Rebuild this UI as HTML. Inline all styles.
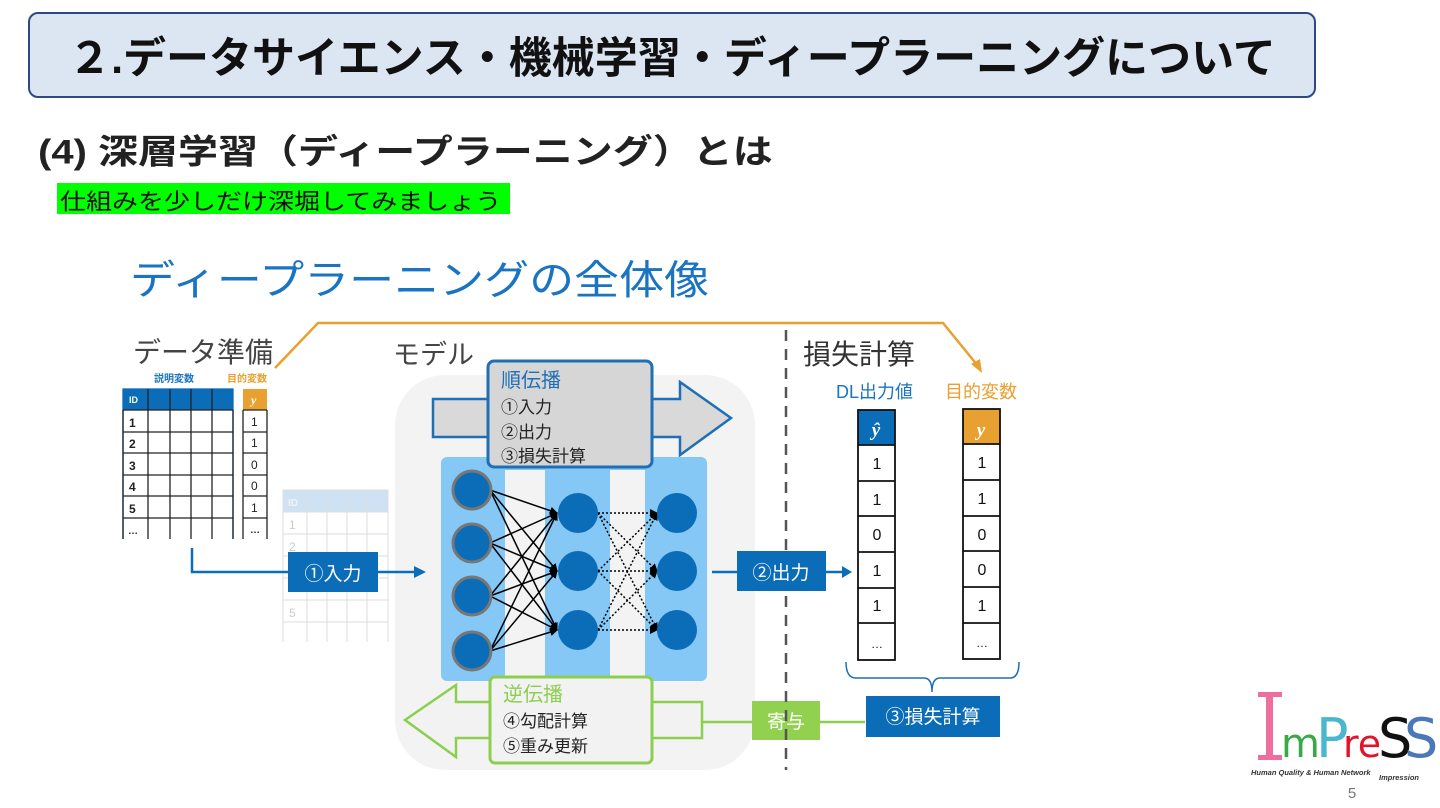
<!DOCTYPE html>
<html><head><meta charset="utf-8"><style>
body{margin:0;width:1440px;height:808px;background:#fff;position:relative;overflow:hidden;font-family:"Liberation Sans","Noto Sans CJK JP",sans-serif}
.a{position:absolute;white-space:nowrap}
</style></head><body>
<div class="a" style="left:28px;top:12px;width:1284px;height:82px;background:#dce6f2;border:2px solid #2e4a86;border-radius:10px"></div>
<div class="a" style="left:28px;top:24px;width:1288px;text-align:center;font-size:43px;font-weight:bold;color:#111">２.データサイエンス・機械学習・ディープラーニングについて</div>
<div class="a" style="left:38px;top:120px;font-size:40px;font-weight:bold;color:#222;transform:scaleY(0.85);transform-origin:0 50%">(4) 深層学習（ディープラーニング）とは</div>
<div class="a" style="left:57px;top:183px;width:453px;height:31px;background:#00ff00"></div>
<div class="a" style="left:60px;top:182px;font-size:26px;color:#111;transform:scaleY(0.88);transform-origin:0 50%">仕組みを少しだけ深堀してみましょう</div>
<div class="a" style="left:130px;top:244px;font-size:45px;color:#1a74c2;transform:scaleY(0.9);transform-origin:0 50%">ディープラーニングの全体像</div>
<div class="a" style="left:133px;top:331px;font-size:28px;color:#444">データ準備</div>
<div class="a" style="left:393px;top:333px;font-size:27px;color:#444">モデル</div>
<div class="a" style="left:803px;top:333px;font-size:28px;color:#333">損失計算</div>
<div class="a" style="left:836px;top:378px;font-size:18px;color:#1a74c2">DL出力値</div>
<div class="a" style="left:945px;top:378px;font-size:18px;color:#e8a030">目的変数</div>

<svg class="a" style="left:0;top:0" width="1440" height="808" font-family="Liberation Sans, Noto Sans CJK JP, sans-serif">
<defs><marker id="ah" markerWidth="8" markerHeight="8" refX="7" refY="4" orient="auto" markerUnits="userSpaceOnUse"><path d="M0,0 L8,4 L0,8z" fill="#000"/></marker></defs>
<rect x="395" y="375" width="360" height="395" rx="50" fill="#f3f3f3"/>
<g stroke="#d8dde2" stroke-width="1" fill="none">
<rect x="283" y="490" width="105" height="22" fill="#cfe2f3"/>
<line x1="283" y1="512" x2="283" y2="642"/><line x1="307" y1="490" x2="307" y2="642"/><line x1="327" y1="490" x2="327" y2="642"/><line x1="347" y1="490" x2="347" y2="642"/><line x1="367" y1="490" x2="367" y2="642"/><line x1="388" y1="490" x2="388" y2="642"/>
<line x1="283" y1="534" x2="388" y2="534"/><line x1="283" y1="556" x2="388" y2="556"/><line x1="283" y1="578" x2="388" y2="578"/><line x1="283" y1="600" x2="388" y2="600"/><line x1="283" y1="622" x2="388" y2="622"/>
</g>
<g fill="#c8ccd0" font-size="12"><text x="288" y="506" fill="#eef4fa" font-weight="bold" font-size="10">ID</text><text x="289" y="529">1</text><text x="289" y="551">2</text><text x="289" y="617">5</text></g>
<rect x="118" y="368" width="158" height="172" fill="#fff"/>
<text x="154" y="382" font-size="10" font-weight="bold" fill="#1a74c2">説明変数</text>
<text x="227" y="382" font-size="10" font-weight="bold" fill="#e8a030">目的変数</text>
<rect x="123" y="389" width="110" height="21" fill="#0b6cb8"/>
<rect x="243" y="389" width="24" height="21" fill="#e8a030"/>
<g stroke="#222" stroke-width="1.3" fill="none">
<rect x="123" y="389" width="110" height="151" stroke="#0b6cb8"/>
<line x1="123" y1="410" x2="123" y2="540"/><line x1="148" y1="389" x2="148" y2="540"/><line x1="170" y1="389" x2="170" y2="540"/><line x1="191" y1="389" x2="191" y2="540"/><line x1="212" y1="389" x2="212" y2="540"/><line x1="233" y1="410" x2="233" y2="540"/>
<line x1="123" y1="432" x2="233" y2="432"/><line x1="123" y1="453" x2="233" y2="453"/><line x1="123" y1="475" x2="233" y2="475"/><line x1="123" y1="496" x2="233" y2="496"/><line x1="123" y1="518" x2="233" y2="518"/><line x1="123" y1="410" x2="233" y2="410"/>
<line x1="243" y1="410" x2="243" y2="540"/><line x1="267" y1="410" x2="267" y2="540"/>
<line x1="243" y1="410" x2="267" y2="410"/><line x1="243" y1="432" x2="267" y2="432"/><line x1="243" y1="453" x2="267" y2="453"/><line x1="243" y1="475" x2="267" y2="475"/><line x1="243" y1="496" x2="267" y2="496"/><line x1="243" y1="518" x2="267" y2="518"/>
</g>
<rect x="116" y="539" width="162" height="4" fill="#fff"/>
<g font-size="12" font-weight="bold" fill="#222">
<text x="129" y="403" fill="#fff" font-size="9">ID</text><text x="251" y="404" fill="#fff" font-family="Liberation Serif" font-style="italic">y</text>
<text x="129" y="427">1</text><text x="129" y="448">2</text><text x="129" y="470">3</text><text x="129" y="491">4</text><text x="129" y="513">5</text><text x="128" y="534" font-size="10">…</text>
<text x="251" y="426" font-weight="normal">1</text><text x="251" y="447" font-weight="normal">1</text><text x="251" y="469" font-weight="normal">0</text><text x="251" y="490" font-weight="normal">0</text><text x="251" y="512" font-weight="normal">1</text><text x="250" y="533" font-size="10">…</text>
</g>
<polyline points="275,368 318,323 943,323 978,366" fill="none" stroke="#e8a030" stroke-width="2.5"/>
<polygon points="982,373 971,364 980,359" fill="#e8a030"/>
<polyline points="192,548 192,572 418,572" fill="none" stroke="#0b6cb8" stroke-width="2.5"/>
<polygon points="426,572 414,566 414,578" fill="#0b6cb8"/>
<rect x="288" y="552" width="90" height="40" fill="#0b6cb8"/>
<text x="333" y="580" text-anchor="middle" font-size="19" fill="#fff">①入力</text>
<polygon points="433,399 680,399 680,382 731,418 680,455 680,437 433,437" fill="#d9d9d9" stroke="#1f6fb6" stroke-width="2.5"/>
<rect x="441" y="457" width="266" height="224" rx="6" fill="#85c8f5"/>
<rect x="505" y="470" width="40" height="211" fill="#f3f3f3"/>
<rect x="610" y="470" width="35" height="211" fill="#f3f3f3"/>
<g stroke="#000" stroke-width="1.5">
<g marker-end="url(#ah)">
<line x1="490" y1="490" x2="557" y2="513"/><line x1="490" y1="490" x2="557" y2="571"/><line x1="490" y1="490" x2="557" y2="630"/>
<line x1="490" y1="543" x2="557" y2="513"/><line x1="490" y1="543" x2="557" y2="571"/><line x1="490" y1="543" x2="557" y2="630"/>
<line x1="490" y1="596" x2="557" y2="513"/><line x1="490" y1="596" x2="557" y2="571"/><line x1="490" y1="596" x2="557" y2="630"/>
<line x1="490" y1="651" x2="557" y2="513"/><line x1="490" y1="651" x2="557" y2="571"/><line x1="490" y1="651" x2="557" y2="630"/>
</g>
<g stroke-dasharray="2,2" marker-end="url(#ah)">
<line x1="598" y1="513" x2="657" y2="513"/><line x1="598" y1="513" x2="657" y2="571"/><line x1="598" y1="513" x2="657" y2="630"/>
<line x1="598" y1="571" x2="657" y2="513"/><line x1="598" y1="571" x2="657" y2="571"/><line x1="598" y1="571" x2="657" y2="630"/>
<line x1="598" y1="630" x2="657" y2="513"/><line x1="598" y1="630" x2="657" y2="571"/><line x1="598" y1="630" x2="657" y2="630"/>
</g></g>
<g fill="#0b6cb8" stroke="#777" stroke-width="3">
<circle cx="472" cy="490" r="19"/><circle cx="472" cy="543" r="19"/><circle cx="472" cy="596" r="19"/><circle cx="472" cy="651" r="19"/></g>
<g fill="#0b6cb8">
<circle cx="578" cy="513" r="20"/><circle cx="578" cy="571" r="20"/><circle cx="578" cy="630" r="20"/>
<circle cx="677" cy="513" r="20"/><circle cx="677" cy="571" r="20"/><circle cx="677" cy="630" r="20"/></g>
<rect x="488" y="361" width="164" height="106" rx="6" fill="#d6d6d6" stroke="#1f6fb6" stroke-width="3"/>
<text x="501" y="387" font-size="20" fill="#1f6fb6">順伝播</text>
<g font-size="17" fill="#222"><text x="501" y="413">①入力</text><text x="501" y="438">②出力</text><text x="501" y="462">③損失計算</text></g>
<polyline points="702,722 865,722" stroke="#8ccf4e" stroke-width="2.5"/>
<polygon points="702,702 456,702 456,685 405,720 456,757 456,738 702,738" fill="#f2f2f2" stroke="#8ccf4e" stroke-width="2.5"/>
<rect x="490" y="677" width="162" height="86" rx="5" fill="#f2f2f2" stroke="#8ccf4e" stroke-width="3"/>
<text x="503" y="701" font-size="20" fill="#8ccf4e">逆伝播</text>
<g font-size="17" fill="#222"><text x="503" y="727">④勾配計算</text><text x="503" y="752">⑤重み更新</text></g>
<rect x="752" y="701" width="68" height="39" fill="#92d050"/>
<text x="786" y="728" text-anchor="middle" font-size="19" fill="#fff">寄与</text>
<line x1="786" y1="330" x2="786" y2="770" stroke="#555" stroke-width="2.5" stroke-dasharray="11,8"/>
<line x1="712" y1="572" x2="846" y2="572" stroke="#0b6cb8" stroke-width="2.5"/>
<polygon points="852,572 842,566 842,578" fill="#0b6cb8"/>
<rect x="737" y="551" width="89" height="40" fill="#0b6cb8"/>
<text x="781" y="579" text-anchor="middle" font-size="19" fill="#fff">②出力</text>
<rect x="858" y="410" width="37" height="35" fill="#0b6cb8"/>
<rect x="963" y="409" width="37" height="35" fill="#e8a030"/>
<g stroke="#111" stroke-width="1.8" fill="none">
<rect x="858" y="410" width="37" height="250"/><rect x="963" y="409" width="37" height="250"/>
<line x1="858" y1="445" x2="895" y2="445"/><line x1="858" y1="481" x2="895" y2="481"/><line x1="858" y1="516" x2="895" y2="516"/><line x1="858" y1="552" x2="895" y2="552"/><line x1="858" y1="588" x2="895" y2="588"/><line x1="858" y1="623" x2="895" y2="623"/>
<line x1="963" y1="444" x2="1000" y2="444"/><line x1="963" y1="480" x2="1000" y2="480"/><line x1="963" y1="516" x2="1000" y2="516"/><line x1="963" y1="551" x2="1000" y2="551"/><line x1="963" y1="587" x2="1000" y2="587"/><line x1="963" y1="623" x2="1000" y2="623"/>
</g>
<g font-size="16" fill="#111" text-anchor="middle">
<text x="876" y="436" fill="#fff" font-family="Liberation Serif" font-style="italic" font-weight="bold" font-size="19">ŷ</text>
<text x="981" y="436" fill="#fff" font-family="Liberation Serif" font-style="italic" font-weight="bold" font-size="19">y</text>
<text x="877" y="469">1</text><text x="877" y="505">1</text><text x="877" y="540">0</text><text x="877" y="576">1</text><text x="877" y="611">1</text><text x="877" y="648" font-size="12">…</text>
<text x="982" y="468">1</text><text x="982" y="504">1</text><text x="982" y="540">0</text><text x="982" y="575">0</text><text x="982" y="611">1</text><text x="982" y="647" font-size="12">…</text>
</g>
<path d="M846,662 Q846,678 856,678 L924,678 Q932,678 932,692 Q932,678 940,678 L1010,678 Q1019,678 1019,662" fill="none" stroke="#1f6fb6" stroke-width="1.5"/>
<rect x="866" y="696" width="134" height="41" fill="#0b6cb8"/>
<text x="933" y="723" text-anchor="middle" font-size="19" fill="#fff">③損失計算</text>
<g font-family="DejaVu Sans, sans-serif">
<rect x="1266" y="694" width="7" height="64" fill="#ee6ea0"/>
<rect x="1258" y="692" width="24" height="5" fill="#ee6ea0"/>
<rect x="1258" y="755" width="24" height="5" fill="#ee6ea0"/>
<text x="1281" y="757" font-size="40" fill="#3aa847">m</text>
<text x="1316" y="757" font-size="54" fill="#49b8cc">P</text>
<text x="1343" y="757" font-size="38" fill="#e0152c">re</text>
<text x="1378" y="757" font-size="54" fill="#111">S</text>
<text x="1404" y="757" font-size="54" fill="#4a78b8">S</text>
</g>
<text x="1251" y="775" font-size="7.5" font-weight="bold" font-style="italic" fill="#333">Human Quality &amp; Human Network</text>
<text x="1379" y="780" font-size="7.5" font-weight="bold" font-style="italic" fill="#333">Impression</text>
<text x="1352" y="798" font-size="15" fill="#777" text-anchor="middle">5</text>
</svg>
</body></html>
